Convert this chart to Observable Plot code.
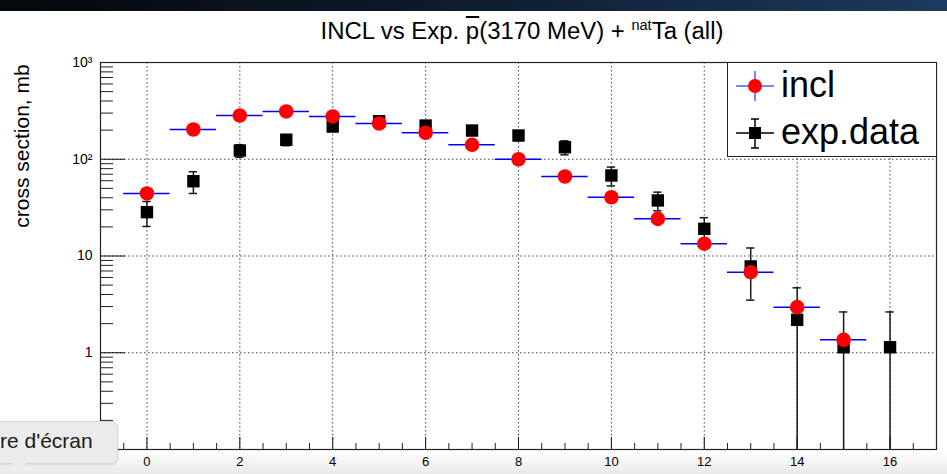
<!DOCTYPE html>
<html>
<head>
<meta charset="utf-8">
<script src="https://cdn.jsdelivr.net/npm/d3@7"></script>
<script src="https://cdn.jsdelivr.net/npm/@observablehq/plot@0.6"></script>
<style>
  html, body { margin: 0; padding: 0; background: #fff; }
  #wrap {
    position: relative; width: 947px; height: 474px; overflow: hidden;
    font-family: "Liberation Sans", Arial, Helvetica, sans-serif;
    background: linear-gradient(to bottom, #fff 0px, #fff 450px, #e9e9e9 474px);
  }
  #topbar {
    position: absolute; left: 0; top: 0; width: 947px; height: 11px;
    background: linear-gradient(to right, #04070b 0%, #0d1a2b 45%, #1c3a5e 100%);
  }
  #title {
    position: absolute; left: 0; top: 18px; width: 1044px; text-align: center;
    font-size: 23px; color: #000; white-space: nowrap;
    transform: scaleX(1.04); transform-origin: 522px 0;
  }
  #title .bar { text-decoration: overline; }
  #title sup { font-size: 14px; vertical-align: 0; position: relative; top: -9px; }
  #ylabel {
    position: absolute; left: 22px; top: 146px; transform: translate(-50%, -50%) rotate(-90deg);
    font-size: 21px; white-space: nowrap; color: #000;
  }
  #legend {
    position: absolute; left: 727px; top: 62px; width: 208px; height: 93px;
    border: 1px solid #222; background: #fff;
  }
  #tip {
    position: absolute; left: -14px; top: 421px; width: 130px; height: 41px;
    background: #ebebeb; border: 1px solid #d6d6d6; border-radius: 7px;
    box-shadow: 0 1px 3px rgba(0,0,0,0.12);
  }
  #tip span {
    position: absolute; left: 13px; top: 7px; font-size: 21px; color: #1a1a1a; white-space: nowrap;
  }
  #tipArrow {
    position: absolute; left: 10px; top: 461px; width: 0; height: 0;
    border-left: 9px solid transparent; border-right: 9px solid transparent;
    border-top: 11px solid #ebebeb;
  }
  #chart svg { position: absolute; left: 0; top: 0; }
</style>
</head>
<body>
<div id="wrap">
  <div id="chart"></div>
  <div id="topbar"></div>
  <div id="title">INCL vs Exp. <span class="bar">p</span>(3170 MeV) + <sup>nat</sup>Ta (all)</div>
  <div id="ylabel">cross section, mb</div>
  <div id="legend">
    <svg width="208" height="93">
      <line x1="8" x2="46" y1="23" y2="23" stroke="#4d5cff" stroke-width="1.5"/>
      <line x1="27" x2="27" y1="8" y2="38" stroke="#4d5cff" stroke-width="1.5"/>
      <circle cx="27" cy="23" r="7" fill="#ff0000"/>
      <text x="53" y="34" font-size="36" font-family="Liberation Sans, Arial, sans-serif">incl</text>
      <line x1="8" x2="46" y1="70" y2="70" stroke="#000" stroke-width="1.5"/>
      <line x1="27" x2="27" y1="56" y2="85" stroke="#000" stroke-width="1.5"/>
      <line x1="23" x2="31" y1="56" y2="56" stroke="#000" stroke-width="1.5"/>
      <line x1="23" x2="31" y1="85" y2="85" stroke="#000" stroke-width="1.5"/>
      <rect x="21" y="64" width="12" height="12" fill="#000"/>
      <text x="53" y="81" font-size="36" font-family="Liberation Sans, Arial, sans-serif">exp.data</text>
    </svg>
  </div>
  <div id="tip"><span>re d'écran</span></div>
  <div id="tipArrow"></div>
</div>
<script>
// INCL model: cross section (mb) per bin, bins are one unit wide
const inclX = [0, 1, 2, 3, 4, 5, 6, 7, 8, 9, 10, 11, 12, 13, 14, 15];
const inclY = [44.3, 203, 283, 312, 277, 234, 188, 141, 100, 66.3, 40.5, 24.2, 13.4, 6.8, 2.96, 1.36];

// Experimental data: cross section (mb) with uncertainty
const expX   = [0, 1, 2, 3, 4, 5, 6, 7, 8, 9, 10, 11, 12, 13, 14, 15, 16];
const expY   = [28.4, 59.3, 123, 159, 218, 247, 223, 198, 176, 133, 68, 37.5, 19.1, 7.8, 2.19, 1.14, 1.14];
const expErr = [8.2, 15, 18, 21, 25, 25, 25, 20, 20, 22, 15, 8.2, 5.8, 4.3, 2.5, 1.5, 1.5];

// Axis ticks
const xDomain = [-1, 17];
const yDomain = [0.1, 1000];
const xLabelTicks = [0, 2, 4, 6, 8, 10, 12, 14, 16];
const xMinorTicks = d3.range(-0.5, 17, 0.5).filter(v => v % 2 !== 0);
const yMajorTicks = [0.1, 1, 10, 100, 1000];
const yLabelTicks = [1, 10, 100, 1000];
const yMinorTicks = [0.1, 1, 10, 100].flatMap(d => [2, 3, 4, 5, 6, 7, 8, 9].map(m => +(d * m).toPrecision(3)));

const binHalf = 0.5;
const capHalf = 0.09;

const incl = inclX.map((x, i) => ({x, y: inclY[i]}));
const exp = expX.map((x, i) => {
  const lo = expY[i] - expErr[i];
  return {x, y: expY[i], lo: Math.max(lo, yDomain[0]), hi: expY[i] + expErr[i], loCap: lo > yDomain[0]};
});

const W = 947, H = 474;
const mL = 100, mR = 11, mT = 62, mB = 25;
const plotW = W - mL - mR, plotH = H - mT - mB;

const supers = {2: "\u00b2", 3: "\u00b3"};
const fmtY = d => d >= 100 ? "10" + supers[Math.round(Math.log10(d))] : String(d);

const dotted = {stroke: "#444", strokeDasharray: "1.5,2.5", strokeWidth: 1};

const chart = Plot.plot({
  width: W, height: H,
  marginLeft: mL, marginRight: mR, marginTop: mT, marginBottom: mB,
  style: {background: "transparent", fontFamily: "Liberation Sans, Arial, sans-serif", color: "#000"},
  x: {domain: xDomain},
  y: {type: "log", domain: yDomain},
  marks: [
    // grid
    Plot.ruleX(xLabelTicks, {x: d => d, ...dotted}),
    Plot.ruleY([1, 10, 100], {y: d => d, ...dotted}),
    // inward tick marks
    Plot.tickY(yMinorTicks, {y: d => d, stroke: "#222", insetRight: plotW - 13}),
    Plot.tickY(yMajorTicks, {y: d => d, stroke: "#111", insetRight: plotW - 25}),
    Plot.tickX(xMinorTicks, {x: d => d, stroke: "#222", insetTop: plotH - 6}),
    Plot.tickX(xLabelTicks, {x: d => d, stroke: "#111", insetTop: plotH - 12}),
    Plot.frame({stroke: "#222", strokeWidth: 1.2}),
    Plot.axisX({ticks: xLabelTicks, tickSize: 0, tickPadding: 7, fontSize: 13, label: null, tickFormat: d => String(d)}),
    Plot.axisY({ticks: yLabelTicks, tickSize: 0, tickPadding: 8, fontSize: 14, label: null, tickFormat: fmtY}),
    // experimental data
    Plot.ruleX(exp, {x: "x", y1: "lo", y2: "hi", stroke: "#1a1a1a", strokeWidth: 1.5}),
    Plot.ruleY(exp, {y: "hi", x1: d => d.x - capHalf, x2: d => d.x + capHalf, stroke: "#1a1a1a", strokeWidth: 1.5}),
    Plot.ruleY(exp.filter(d => d.loCap), {y: "lo", x1: d => d.x - capHalf, x2: d => d.x + capHalf, stroke: "#1a1a1a", strokeWidth: 1.5}),
    Plot.dot(exp, {x: "x", y: "y", symbol: "square", r: 7, fill: "#000", stroke: "none"}),
    // INCL
    Plot.ruleY(incl, {y: "y", x1: d => d.x - binHalf, x2: d => d.x + binHalf, stroke: "#0000ff", strokeWidth: 1.5}),
    Plot.dot(incl, {x: "x", y: "y", r: 7.3, fill: "#ff0000", stroke: "none"})
  ]
});
document.getElementById("chart").appendChild(chart);
</script>
</body>
</html>
